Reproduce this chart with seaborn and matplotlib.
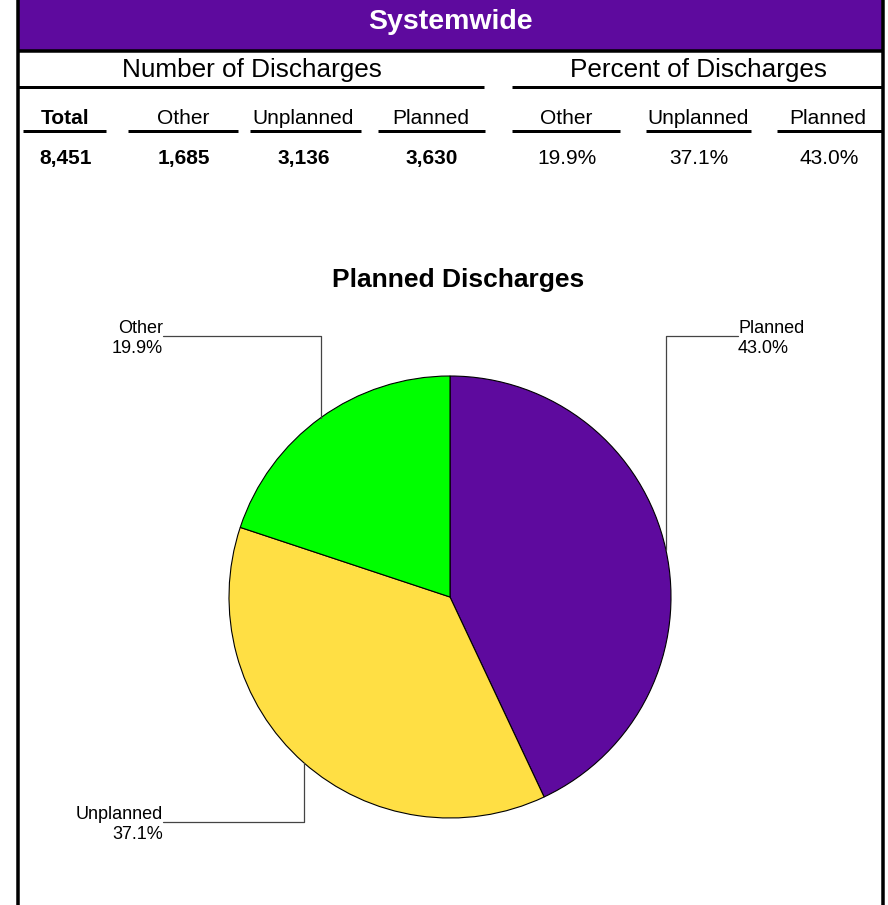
import matplotlib
matplotlib.use("Agg")
import matplotlib.pyplot as plt
import seaborn as sns
import numpy as np

sns.set_theme(style="white")
plt.rcParams['font.family'] = ['Liberation Sans', 'DejaVu Sans']
plt.rcParams['text.color'] = 'black'

# ---- data ----
title = "Systemwide"
categories = ["Other", "Unplanned", "Planned"]
counts = [1685, 3136, 3630]
total = 8451
percents = [19.9, 37.1, 43.0]
pie_order = ["Planned", "Unplanned", "Other"]
pie_values = [43.0, 37.1, 19.9]
pie_colors = {"Planned": "#5E0A9E", "Unplanned": "#FFDF44", "Other": "#00FF00"}
pie_title = "Planned Discharges"

W, H = 888, 905
fig = plt.figure(figsize=(W / 100, H / 100), dpi=100)
ax = fig.add_axes([0, 0, 1, 1])

DY = 2.5  # text baseline tweak


def Y(y):
    return H - y


def TY(y):
    return H - y - DY


def px(w):
    return w * 0.72


# pie
cx, cy, r = 450, 597, 221
wedges, _ = ax.pie(pie_values, colors=[pie_colors[c] for c in pie_order],
                   startangle=90, counterclock=False, center=(cx, Y(cy)), radius=r,
                   wedgeprops=dict(edgecolor="black", linewidth=0.8))
ax.set_xlim(0, W)
ax.set_ylim(0, H)
ax.set_aspect('auto')
ax.axis('off')

# header band
ax.add_patch(plt.Rectangle((18, Y(50)), 865, 50, facecolor="#5E0A9E", edgecolor="none"))
ax.text(450, TY(20), title, ha="center", va="center", color="white",
        fontsize=20.5, fontweight="bold")
ax.plot([18, 883], [Y(51), Y(51)], color="black", lw=px(3.5), solid_capstyle="butt")

# borders
ax.plot([18, 18], [0, H], color="black", lw=px(3.5), solid_capstyle="butt")
ax.plot([883, 883], [0, H], color="black", lw=px(3.5), solid_capstyle="butt")

# section headers
ax.text(252, TY(68), "Number of Discharges", ha="center", va="center", fontsize=18.8, color="black")
ax.text(698, TY(68), "Percent of Discharges", ha="center", va="center", fontsize=18.8, color="black")
ax.plot([18, 484], [Y(87), Y(87)], color="black", lw=px(3), solid_capstyle="butt")
ax.plot([512, 883], [Y(87), Y(87)], color="black", lw=px(3), solid_capstyle="butt")

# column headers
col_x = [65, 183, 303, 431, 566, 698, 828]
col_lines = [(23, 106), (128, 238), (250, 361), (378, 485), (512, 620), (646, 751), (777, 883)]
headers = ["Total"] + categories + categories
values = [f"{total:,}"] + [f"{c:,}" for c in counts] + [f"{p:.1f}%" for p in percents]
for i, (x, h, v, (a, b)) in enumerate(zip(col_x, headers, values, col_lines)):
    bold = i == 0
    ax.text(x, TY(116), h, ha="center", va="center", fontsize=15,
            fontweight="bold" if bold else "normal", color="black")
    ax.plot([a, b], [Y(131), Y(131)], color="black", lw=px(3), solid_capstyle="butt")
    ax.text(x + 1, TY(156), v, ha="center", va="center", fontsize=15,
            fontweight="bold" if i < 4 else "normal", color="black")

# pie title
ax.text(458, TY(277), pie_title, ha="center", va="center", fontsize=19,
        fontweight="bold", color="black")

# leader lines and labels
lc = "#444444"
pv = dict(zip(pie_order, pie_values))
# Other
ax.plot([163, 321, 321], [Y(336), Y(336), Y(418)], color=lc, lw=0.9)
ax.text(163, TY(336), f"Other\n{pv['Other']:.1f}%", ha="right", va="center",
        fontsize=13, linespacing=1.25, color="black")
# Planned
ax.plot([738, 666, 666], [Y(336), Y(336), Y(550)], color=lc, lw=0.9)
ax.text(738, TY(336), f"Planned\n{pv['Planned']:.1f}%", ha="left", va="center",
        fontsize=13, linespacing=1.25, color="black")
# Unplanned
ax.plot([163, 304, 304], [Y(822), Y(822), Y(763)], color=lc, lw=0.9)
ax.text(163, TY(822), f"Unplanned\n{pv['Unplanned']:.1f}%", ha="right", va="center",
        fontsize=13, linespacing=1.25, color="black")

fig.savefig("out.png", dpi=100, facecolor="white")
